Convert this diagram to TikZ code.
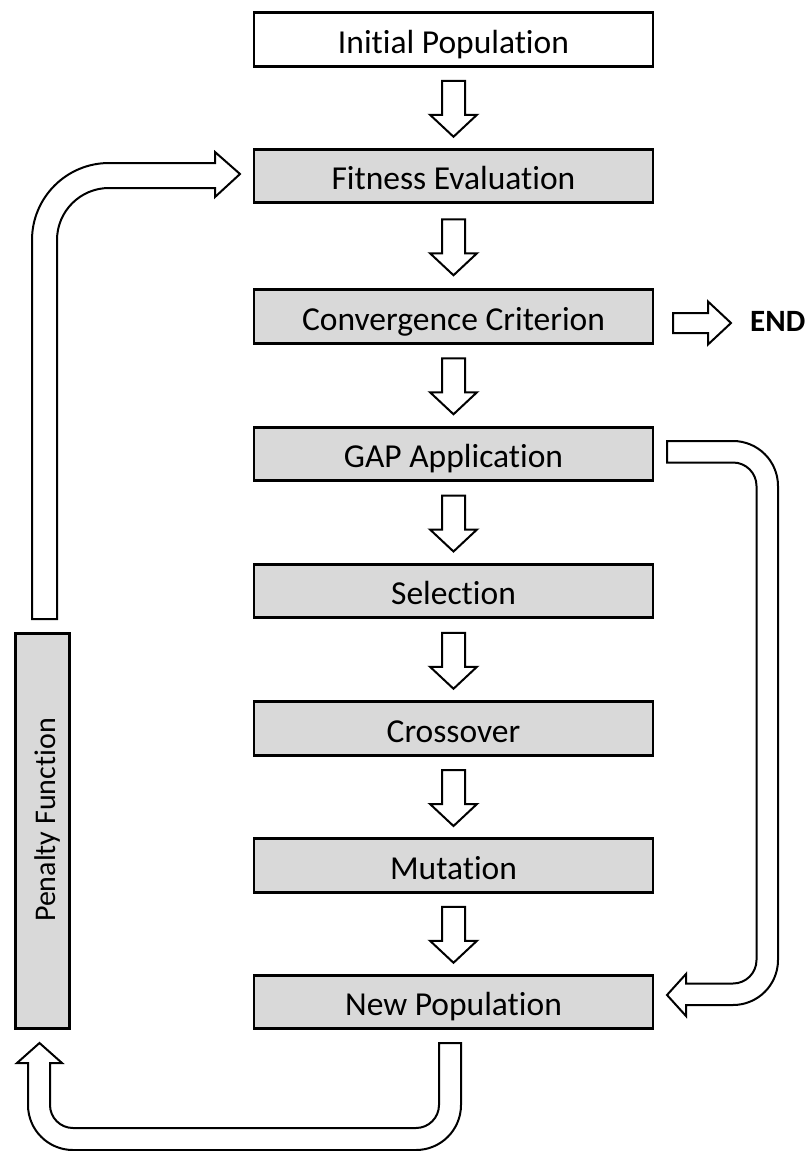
\documentclass[tikz,border=0pt]{standalone}
\usepackage{fontspec}
\setmainfont{Carlito}[Ligatures={NoCommon}]
\usetikzlibrary{calc}
\definecolor{boxgray}{HTML}{D9D9D9}
\begin{document}
\begin{tikzpicture}[x=1pt,y=-1pt,
  stage/.style={draw=black, line width=2.6pt, fill=boxgray,
    minimum width=399pt, minimum height=53.5pt, inner sep=0pt, outer sep=0pt,
    font=\fontsize{33.5}{40}\selectfont, text height=27pt, text depth=0pt},
  blockline/.style={draw=black, line width=2pt, fill=white, line join=miter},
  downblock/.pic={\draw[blockline] (-11.5,-28) -- (11.5,-28) -- (11.5,6)
      -- (23.5,6) -- (0,28) -- (-23.5,6) -- (-11.5,6) -- cycle;},
  rightblock/.pic={\draw[blockline] (0,-10) -- (35,-10) -- (35,-21.5)
      -- (58,0) -- (35,21.5) -- (35,10) -- (0,10) -- cycle;}]
\useasboundingbox (0,0) rectangle (807,1151);

% main column of stages
\node[stage, fill=white] (init)  at (453.5,39.5)  {Initial Population};
\node[stage] (fit)   at (453.5,176)   {Fitness Evaluation};
\node[stage] (conv)  at (453.5,316.5) {Convergence Criterion};
\node[stage] (gap)   at (453.5,454)   {GAP Application};
\node[stage] (sel)   at (453.5,591)   {Selection};
\node[stage] (cross) at (453.5,728.5) {Crossover};
\node[stage] (mut)   at (453.5,865.5) {Mutation};
\node[stage] (newp)  at (453.5,1002)  {New Population};

% penalty column
\node[draw=black, line width=2.6pt, fill=boxgray, minimum width=54.5pt,
  minimum height=395.5pt, inner sep=0pt, outer sep=0pt] (pen) at (42.5,831) {};
\node[rotate=90, inner sep=0pt, font=\fontsize{30}{36}\selectfont,
  text height=25pt, text depth=0pt] (pentext) at (42.5,820) {Penalty Function};

% straight block arrows between consecutive stages
\foreach \a/\b in {init/fit, fit/conv, conv/gap, gap/sel, sel/cross, cross/mut, mut/newp}
  \path ($(\a.south)!0.5!(\b.north)+(0,1)$) pic {downblock};

% exit to END
\path ($(conv.east)+(20,6.5)$) pic {rightblock};
\node[anchor=base west, inner sep=0pt, font=\bfseries\fontsize{31}{36}\selectfont]
  (endlabel) at (750,331) {END};

% penalty function back to fitness evaluation
\draw[blockline] (32,619) -- (32,240)
  .. controls (32,197.5) and (66.5,163) .. (109,163)
  -- (215,163) -- (215,152) -- (240,174) -- (215,197) -- (215,188)
  -- (109,188) .. controls (80.3,188) and (57,211.3) .. (57,240)
  -- (57,619) -- cycle;

% GAP application bypass to new population
\draw[blockline] (667,441) -- (733,441)
  .. controls (757.85,441) and (778,461.15) .. (778,486)
  -- (778,960) .. controls (778,984.85) and (757.85,1005) .. (733,1005)
  -- (686,1005) -- (686,1016) -- (667,995) -- (686,974) -- (686,983.5)
  -- (733,983.5) .. controls (745.98,983.5) and (756.5,972.98) .. (756.5,960)
  -- (756.5,486) .. controls (756.5,472.98) and (745.98,462.5) .. (733,462.5)
  -- (667,462.5) -- cycle;

% new population back to penalty function
\draw[blockline] (439,1043) -- (461,1043) -- (461,1105)
  .. controls (461,1129.85) and (440.85,1150) .. (416,1150)
  -- (73,1150) .. controls (48.15,1150) and (28,1129.85) .. (28,1105)
  -- (28,1063) -- (17,1063) -- (39.5,1043) -- (62,1063) -- (50,1063)
  -- (50,1105) .. controls (50,1117.7) and (60.3,1128) .. (73,1128)
  -- (416,1128) .. controls (428.7,1128) and (439,1117.7) .. (439,1105)
  -- cycle;
\end{tikzpicture}
\end{document}
